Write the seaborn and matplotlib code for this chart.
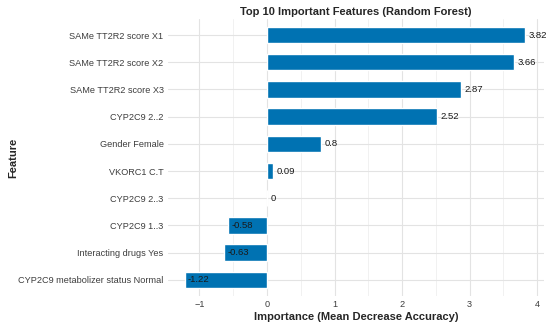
import matplotlib
matplotlib.use("Agg")
import matplotlib.pyplot as plt
import seaborn as sns
import pandas as pd
from matplotlib.ticker import MultipleLocator

features = ["SAMe TT2R2 score X1", "SAMe TT2R2 score X2", "SAMe TT2R2 score X3",
            "CYP2C9 2..2", "Gender Female", "VKORC1 C.T", "CYP2C9 2..3",
            "CYP2C9 1..3", "Interacting drugs Yes", "CYP2C9 metabolizer status Normal"]
importance = [3.82, 3.66, 2.87, 2.52, 0.8, 0.09, 0.0, -0.58, -0.63, -1.22]
labels = ["3.82", "3.66", "2.87", "2.52", "0.8", "0.09", "0", "-0.58", "-0.63", "-1.22"]

df = pd.DataFrame({"Feature": features, "Importance": importance})

sns.set_theme(style="whitegrid")
plt.rcParams['font.family'] = ['Liberation Sans', 'DejaVu Sans']

fig = plt.figure(figsize=(5.5, 3.28), dpi=100)
ax = fig.add_axes([0.305, 0.097, 0.684, 0.846])
sns.barplot(data=df, x="Importance", y="Feature", order=features, color="#0072B2",
            saturation=1, width=0.6, ax=ax)

for i, (v, t) in enumerate(zip(importance, labels)):
    ax.text(v + 0.05, i, t, ha="left", va="center", fontsize=6.8, color="#1a1a1a")

ax.set_xlim(-1.47, 4.1)
ax.set_ylim(9.6, -0.6)
ax.xaxis.set_major_locator(MultipleLocator(1))
ax.xaxis.set_minor_locator(MultipleLocator(0.5))
ax.grid(which="major", color="#e3e3e3", linewidth=0.8)
ax.grid(which="minor", axis="x", color="#efefef", linewidth=0.6)
for s in ax.spines.values():
    s.set_visible(False)
ax.tick_params(axis="both", which="both", length=0, labelsize=6.6, labelcolor="#3d3d3d", pad=3)
ax.set_xticks([-1, 0, 1, 2, 3, 4])
ax.set_xticklabels(["\u22121", "0", "1", "2", "3", "4"])
ax.set_xlabel("Importance (Mean Decrease Accuracy)", fontsize=8, fontweight="bold", labelpad=2)
ax.set_ylabel("Feature", fontsize=8, fontweight="bold", labelpad=0)
ax.set_title("Top 10 Important Features (Random Forest)", fontsize=8, fontweight="bold", pad=3)
ax.set_axisbelow(True)

fig.savefig("out.png", dpi=100)
